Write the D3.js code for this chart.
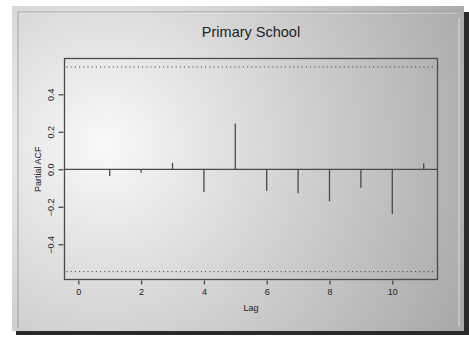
<!DOCTYPE html>
<html>
<head>
<meta charset="utf-8">
<script src="https://cdn.jsdelivr.net/npm/d3@7"></script>
<style>
  html, body { margin: 0; padding: 0; background: #ffffff; }
  svg { display: block; }
  text { font-family: "Liberation Sans", Arial, sans-serif; fill: #222; }
</style>
</head>
<body>
<svg id="chart" width="469" height="340"></svg>
<script>
// Partial autocorrelation by lag
const lags = [1, 2, 3, 4, 5, 6, 7, 8, 9, 10, 11];
const pacf = [-0.036, -0.018, 0.034, -0.121, 0.244, -0.116, -0.128, -0.171, -0.098, -0.238, 0.032];
const ciBound = [0.546];          // significance band half-width
const xTicks = [0, 2, 4, 6, 8, 10];
const yTicks = [-0.4, -0.2, 0.0, 0.2, 0.4];
const title = "Primary School";
const xLabel = "Lag";
const yLabel = "Partial ACF";

const svg = d3.select("#chart");

// shaded panel background
const defs = svg.append("defs");
const grad = defs.append("radialGradient")
  .attr("id", "panelGrad")
  .attr("gradientUnits", "userSpaceOnUse")
  .attr("cx", 105).attr("cy", 145).attr("r", 420);
grad.append("stop").attr("offset", "0").attr("stop-color", "#f9f9f9");
grad.append("stop").attr("offset", "0.45").attr("stop-color", "#d2d2d2");
grad.append("stop").attr("offset", "1").attr("stop-color", "#a4a4a4");

// drop shadow right/bottom
svg.append("rect").attr("x", 16).attr("y", 330).attr("width", 453).attr("height", 5).attr("fill", "#2a2a2a");
svg.append("rect").attr("x", 462).attr("y", 12).attr("width", 7).attr("height", 323).attr("fill", "#2a2a2a");
// outer frame
svg.append("rect").attr("x", 12).attr("y", 6).attr("width", 452).attr("height", 325)
  .attr("fill", "url(#panelGrad)");
// inner bevel
svg.append("path").attr("d", "M18,328 L18,12 L458,12")
  .attr("fill", "none").attr("stroke", "#8a8a8a").attr("stroke-width", 1).attr("opacity", 0.7);
svg.append("path").attr("d", "M459,18 L459,326")
  .attr("fill", "none").attr("stroke", "#dddddd").attr("stroke-width", 1);
svg.append("path").attr("d", "M19,13 L458,13")
  .attr("fill", "none").attr("stroke", "#f2f2f2").attr("stroke-width", 1).attr("opacity", 0.6);

// plot region
const pLeft = 64.5, pRight = 437.5, pTop = 58.5, pBottom = 279.5;
const x = d3.scaleLinear().domain([-0.44, 11.44]).range([pLeft, pRight]);
const y = d3.scaleLinear().domain([-0.588, 0.591]).range([pBottom, pTop]);

const ink = "#4a4a4a";

// box
svg.append("rect").attr("x", pLeft).attr("y", pTop)
  .attr("width", pRight - pLeft).attr("height", pBottom - pTop)
  .attr("fill", "none").attr("stroke", ink).attr("stroke-width", 1.3);

// confidence band lines
[ciBound[0], -ciBound[0]].forEach(v => {
  svg.append("line")
    .attr("x1", pLeft + 2).attr("x2", pRight - 2)
    .attr("y1", y(v)).attr("y2", y(v))
    .attr("stroke", "#333").attr("stroke-width", 1)
    .attr("stroke-dasharray", "1,3.2");
});

// zero line
svg.append("line").attr("x1", pLeft).attr("x2", pRight)
  .attr("y1", y(0)).attr("y2", y(0))
  .attr("stroke", ink).attr("stroke-width", 1.3);

// spikes
svg.append("g").selectAll("line").data(lags).join("line")
  .attr("x1", d => x(d)).attr("x2", d => x(d))
  .attr("y1", y(0)).attr("y2", (d, i) => y(pacf[i]))
  .attr("stroke", ink).attr("stroke-width", 1.3);

// x axis
const xAxis = svg.append("g").attr("transform", `translate(0,${pBottom + 1})`)
  .call(d3.axisBottom(x).tickValues(xTicks).tickFormat(d3.format("d")).tickSize(4).tickPadding(4));
xAxis.select(".domain").remove();
xAxis.selectAll(".tick line").attr("stroke", ink).attr("stroke-width", 1.3);
xAxis.selectAll(".tick text").attr("font-size", 9).attr("fill", "#222")
  .attr("font-family", "Liberation Sans, Arial, sans-serif");

// y axis
const yAxis = svg.append("g").attr("transform", `translate(${pLeft - 1},0)`)
  .call(d3.axisLeft(y).tickValues(yTicks).tickFormat(d3.format(".1f")).tickSize(5).tickPadding(0));
yAxis.select(".domain").remove();
yAxis.selectAll(".tick line").attr("stroke", ink).attr("stroke-width", 1.3);
yAxis.selectAll(".tick text")
  .attr("font-size", 9).attr("fill", "#222")
  .attr("font-family", "Liberation Sans, Arial, sans-serif")
  .attr("x", null).attr("dy", null)
  .attr("text-anchor", "middle")
  .attr("transform", "translate(-10,0) rotate(-90)");

// title and axis labels
svg.append("text").attr("x", 251).attr("y", 36.5)
  .attr("text-anchor", "middle").attr("font-size", 14.5).attr("fill", "#111")
  .text(title);
svg.append("text").attr("x", 251).attr("y", 311)
  .attr("text-anchor", "middle").attr("font-size", 9).text(xLabel);
svg.append("text")
  .attr("transform", `translate(41,${y(0)}) rotate(-90)`)
  .attr("text-anchor", "middle").attr("font-size", 9).text(yLabel);
</script>
</body>
</html>
